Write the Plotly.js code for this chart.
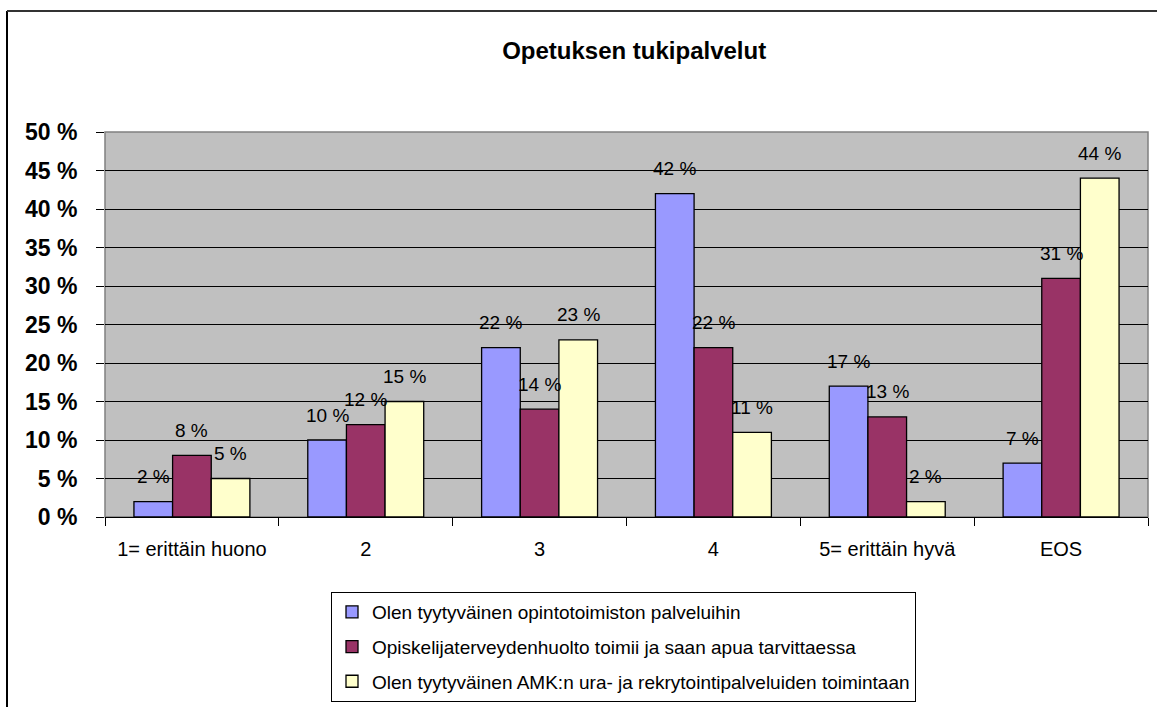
<!DOCTYPE html>
<html>
<head>
<meta charset="utf-8">
<script src="https://cdn.plot.ly/plotly-3.0.1.min.js"></script>
<style>
html,body{margin:0;padding:0;background:#fff;}
#chart{width:1157px;height:707px;}
</style>
</head>
<body>
<div id="chart"></div>
<script>
const categories = ["1= erittäin huono", "2", "3", "4", "5= erittäin hyvä", "EOS"];
const seriesNames = [
  "Olen tyytyväinen opintotoimiston palveluihin",
  "Opiskelijaterveydenhuolto toimii ja saan apua tarvittaessa",
  "Olen tyytyväinen AMK:n ura- ja rekrytointipalveluiden toimintaan"
];
const opintotoimisto = [2, 10, 22, 42, 17, 7];
const terveydenhuolto = [8, 12, 14, 22, 13, 31];
const urapalvelut = [5, 15, 23, 11, 2, 44];
const seriesValues = [opintotoimisto, terveydenhuolto, urapalvelut];
const seriesColors = ["#9999FF", "#993366", "#FFFFCC"];
const chartTitle = "Opetuksen tukipalvelut";

const W = 1157, H = 707;
const margin = {l: 105, r: 9, t: 132, b: 190, autoexpand: false};
const plotW = W - margin.l - margin.r;
const plotH = H - margin.t - margin.b;
const bargap = 0.333;
const barPx = plotW / categories.length * (1 - bargap) / seriesValues.length;

const font = "Liberation Sans, Arial, sans-serif";

const traces = seriesValues.map((vals, i) => ({
  type: "bar",
  name: seriesNames[i],
  legendgroup: "g" + i,
  x: categories,
  y: vals,
  marker: {color: seriesColors[i], line: {color: "#000", width: 1.3}},
  hoverinfo: "none"
}));

const annotations = [];
seriesValues.forEach((vals, i) => {
  vals.forEach((v, j) => {
    annotations.push({
      x: j, y: v, xref: "x", yref: "y",
      text: v + " %", showarrow: false,
      xshift: (i - 1) * barPx, yshift: 25,
      yanchor: "middle", xanchor: "center",
      font: {family: font, size: 19, color: "#000"}
    });
  });
});

const px2x = p => (p - margin.l) / plotW;
const px2y = p => (H - margin.b - p) / plotH;

const layout = {
  width: W, height: H,
  margin: margin,
  paper_bgcolor: "#fff",
  plot_bgcolor: "#C0C0C0",
  barmode: "group",
  bargap: bargap,
  bargroupgap: 0,
  showlegend: true,
  title: {
    text: chartTitle,
    font: {family: font, size: 24, color: "#000", weight: "bold"},
    x: 587 / W, xanchor: "center", xref: "paper",
    y: 1 - 51 / H, yanchor: "middle", yref: "container"
  },
  xaxis: {
    type: "category",
    tickson: "boundaries",
    ticks: "outside", ticklen: 8, tickcolor: "#000", tickwidth: 1,
    showline: true, linecolor: "#000", linewidth: 1,
    showgrid: false,
    tickfont: {family: font, size: 20, color: "#000"},
    ticklabelstandoff: 14,
    automargin: false,
    fixedrange: true
  },
  yaxis: {
    range: [0, 50], dtick: 5, tick0: 0,
    ticksuffix: " %",
    ticks: "outside", ticklen: 8, tickcolor: "#000", tickwidth: 1,
    showline: false,
    showgrid: true, gridcolor: "#000", gridwidth: 1,
    zeroline: false,
    tickfont: {family: font, size: 23, color: "#000", weight: "bold"},
    ticklabelstandoff: 14,
    automargin: false,
    fixedrange: true
  },
  legend: {
    x: px2x(331), xanchor: "left",
    y: px2y(592), yanchor: "top",
    bgcolor: "#fff",
    bordercolor: "#000", borderwidth: 1,
    font: {family: font, size: 19, color: "#000"},
    traceorder: "grouped",
    tracegroupgap: 7
  },
  annotations: annotations,
  shapes: [
    {type: "rect", xref: "paper", yref: "paper", x0: 0, x1: 1, y0: 0, y1: 1,
     line: {color: "#808080", width: 1.5}, fillcolor: "rgba(0,0,0,0)", layer: "below"},
    {type: "line", xref: "paper", yref: "paper", x0: px2x(7), x1: px2x(7), y0: px2y(11), y1: px2y(720),
     line: {color: "#000", width: 2}},
    {type: "line", xref: "paper", yref: "paper", x0: px2x(7), x1: px2x(1170), y0: px2y(11), y1: px2y(11),
     line: {color: "#333", width: 2}}
  ]
};

Plotly.newPlot("chart", traces, layout, {displayModeBar: false, staticPlot: true});
</script>
</body>
</html>
